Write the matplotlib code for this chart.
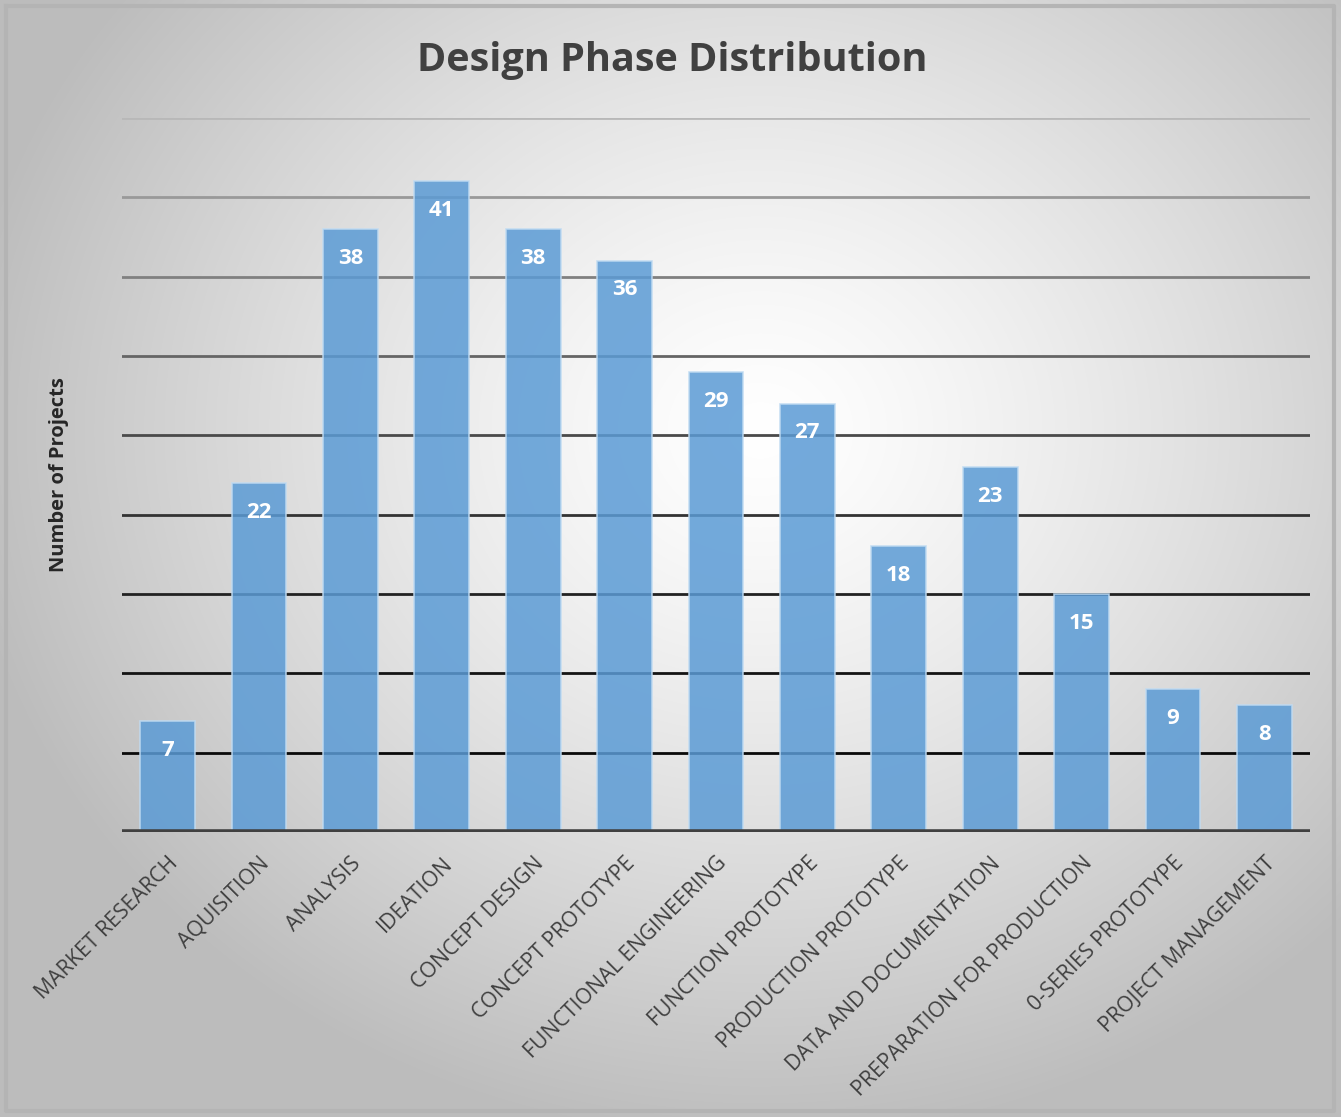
import matplotlib.pyplot as plt
import numpy as np

categories = [
    "MARKET RESEARCH", "AQUISITION", "ANALYSIS", "IDEATION", "CONCEPT DESIGN",
    "CONCEPT PROTOTYPE", "FUNCTIONAL ENGINEERING", "FUNCTION PROTOTYPE",
    "PRODUCTION PROTOTYPE", "DATA AND DOCUMENTATION", "PREPARATION FOR PRODUCTION",
    "0-SERIES PROTOTYPE", "PROJECT MANAGEMENT",
]
projects = [7, 22, 38, 41, 38, 36, 29, 27, 18, 23, 15, 9, 8]
grid_levels = [5, 10, 15, 20, 25, 30, 35, 40, 45]
grid_colors = ["#0a0a0a", "#141414", "#222222", "#333333", "#4a4a4a",
               "#656565", "#808080", "#999999", "#b8b8b8"]

plt.rcParams["font.family"] = ["Open Sans", "DejaVu Sans"]

fig = plt.figure(figsize=(13.41, 11.17), dpi=100)
fig.patch.set_facecolor("#c8c8c8")

# radial gradient background panel
bg = fig.add_axes([0, 0, 1, 1], zorder=-10)
h, w = 1117, 1341
yy, xx = np.mgrid[0:h, 0:w]
r = np.sqrt(((xx - 760) / 850.0) ** 2 + ((yy - 430) / 750.0) ** 2)
shade = np.clip(1.0 - 0.28 * r ** 1.3, 0.74, 1.0)
img = np.dstack([shade, shade, shade])
bg.imshow(img, extent=[0, w, h, 0], aspect="auto", interpolation="bilinear")
bg.plot([6, 1334, 1334, 6, 6], [6, 6, 1111, 1111, 6], color="#b4b4b4", lw=3)
bg.set_xlim(0, w)
bg.set_ylim(h, 0)
bg.axis("off")

ax = fig.add_axes([122 / 1341, 1 - 832 / 1117, (1310 - 122) / 1341, (832 - 118) / 1117])
ax.patch.set_alpha(0)

x = np.arange(len(categories))
for lvl, col in zip(grid_levels, grid_colors):
    ax.axhline(lvl, color=col, lw=2, zorder=1)

bars = ax.bar(x, projects, width=0.6, color="#5b9bd5", alpha=0.85,
              edgecolor="#c0dbf2", linewidth=1.2, zorder=2)
for xi, v in zip(x, projects):
    ax.annotate(str(v), (xi, v), xytext=(0, -21), textcoords="offset points",
                ha="center", va="center", color="white", fontsize=16,
                fontweight="bold", zorder=3)

ax.axhline(0, color="#404040", lw=4, zorder=4)
ax.set_xlim(-0.5, len(categories) - 0.5)
ax.set_ylim(0, 45)
ax.set_yticks([])
ax.set_xticks(x)
ax.set_xticklabels(categories, rotation=45, ha="right", va="top",
                   rotation_mode="anchor", fontsize=15.3, color="#404040")
ax.tick_params(axis="x", length=0, pad=15)
for s in ax.spines.values():
    s.set_visible(False)

ax.set_ylabel("Number of Projects", fontsize=14.5, fontweight="bold",
              color="#262626", labelpad=38)
fig.text(672 / 1341, 1 - 60 / 1117, "Design Phase Distribution", ha="center",
         va="center", fontsize=28.5, fontweight="bold", color="#404040")

fig.savefig("out.png", dpi=100, facecolor=fig.get_facecolor())
